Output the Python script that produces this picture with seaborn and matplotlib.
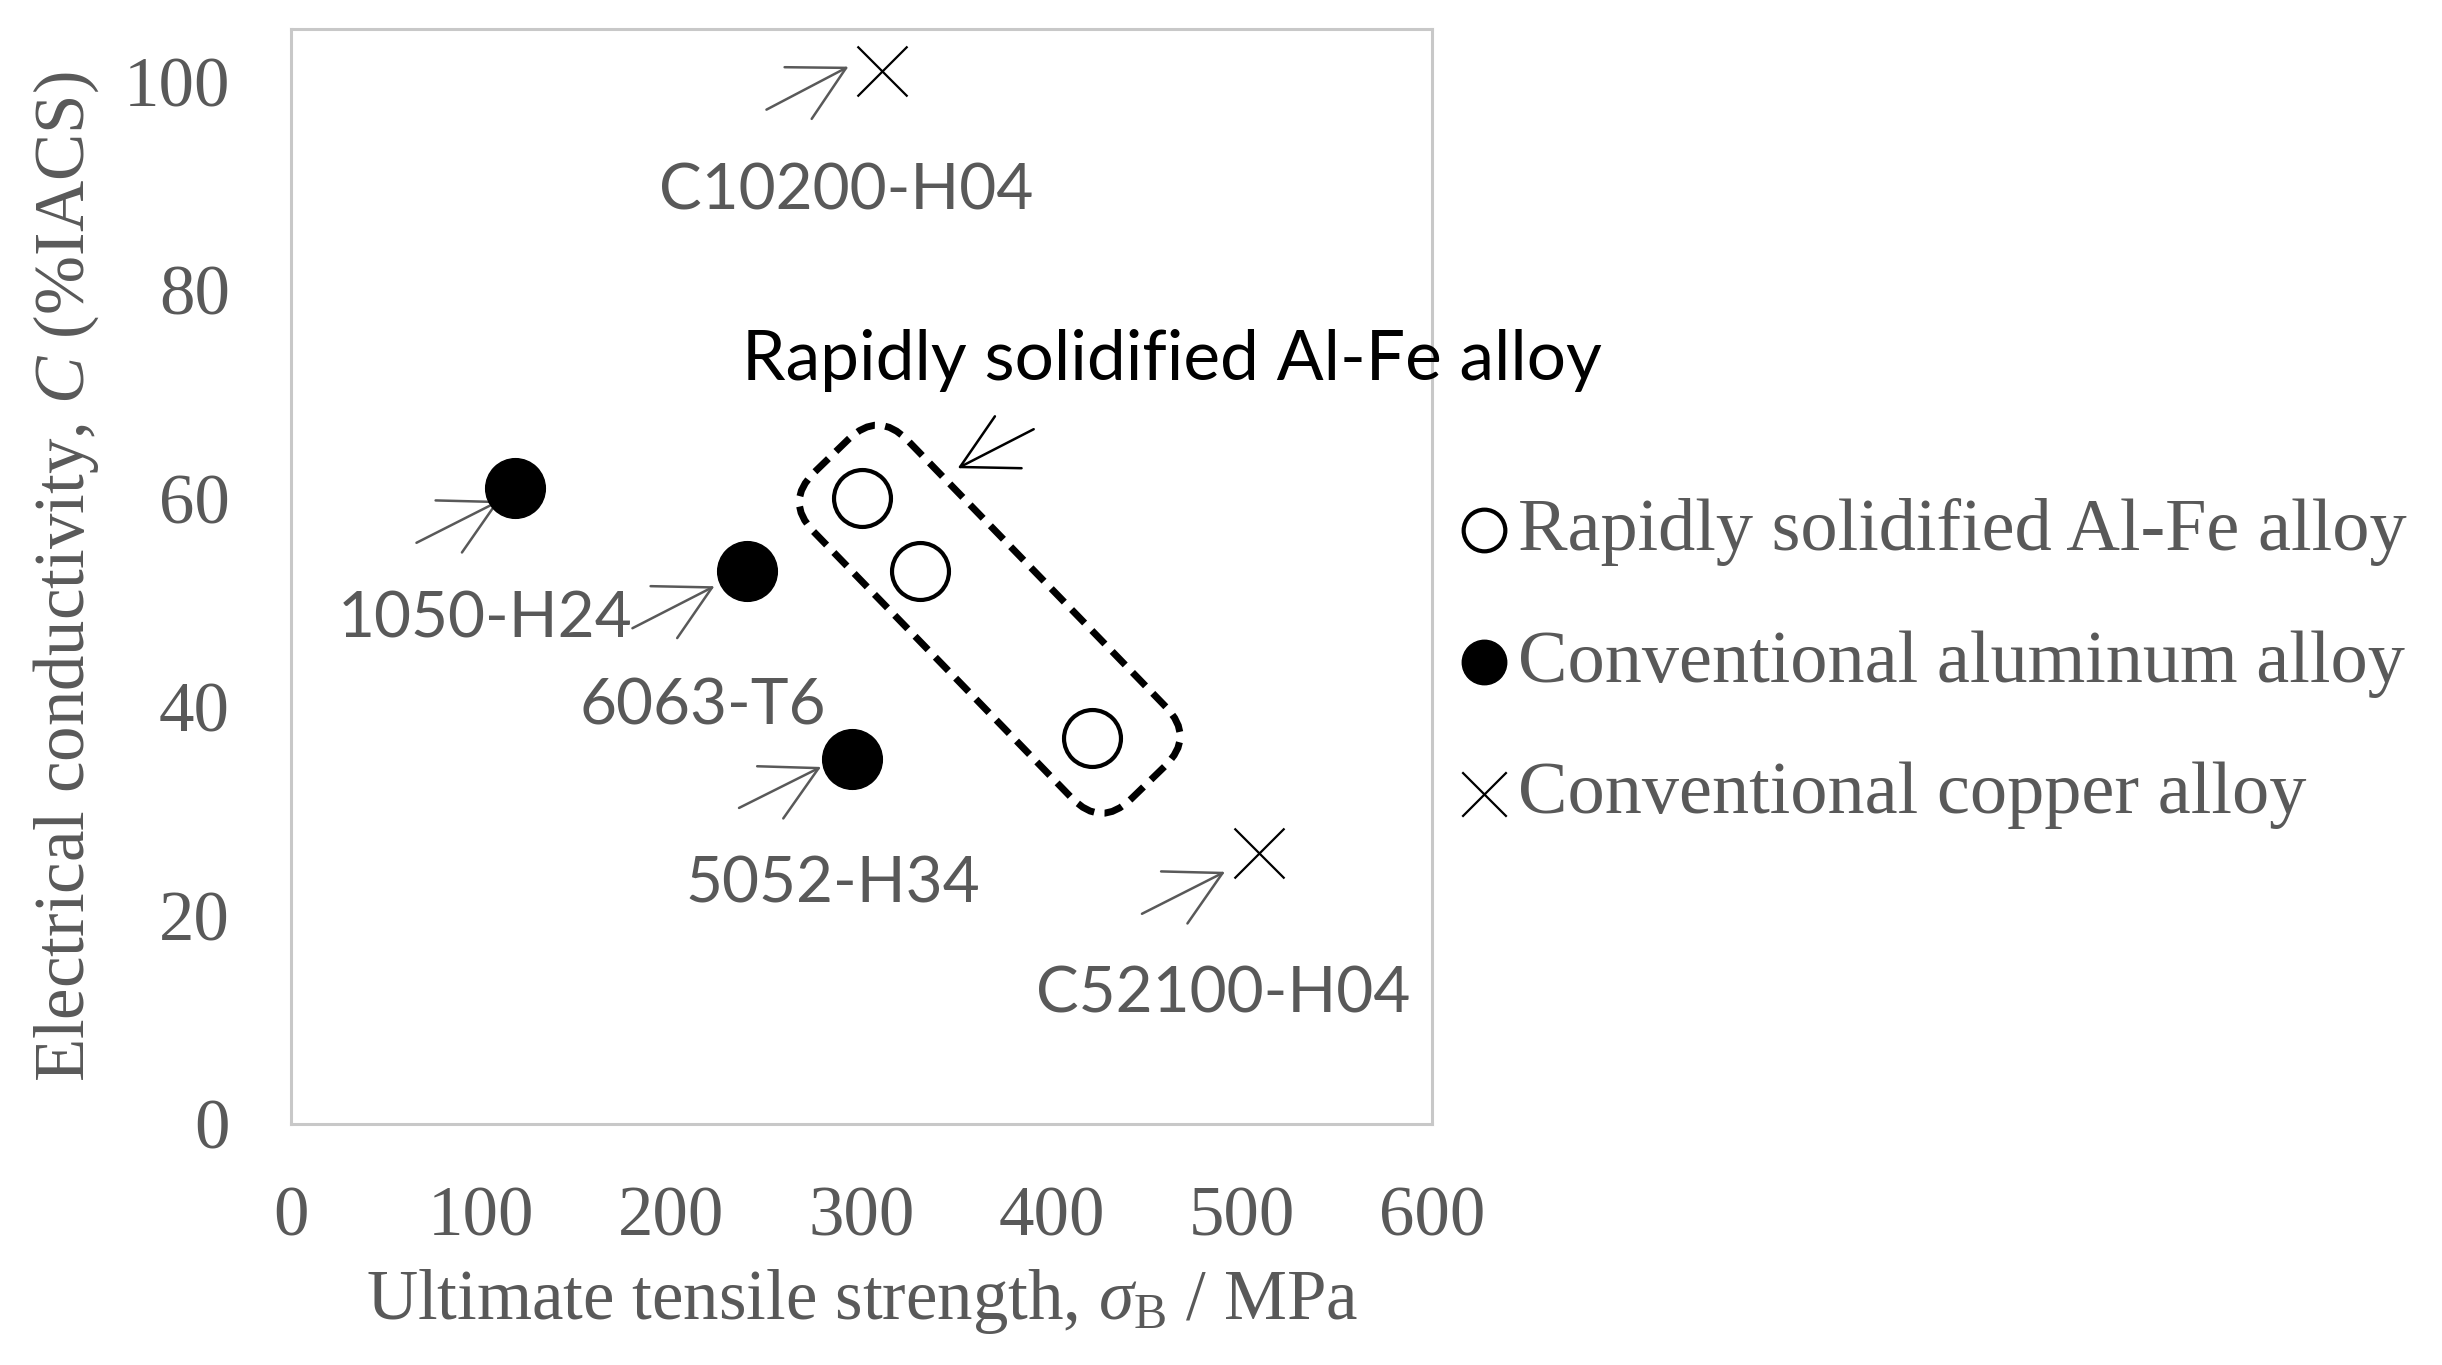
import matplotlib
matplotlib.use("Agg")
import matplotlib.pyplot as plt
import matplotlib.transforms as mtransforms
from matplotlib.patches import FancyBboxPatch
import seaborn as sns

# rapidly solidified Al-Fe alloy
rs_strength = [300, 331, 421]
rs_conductivity = [60, 53, 37]

# conventional aluminum alloys
al_names = ["1050-H24", "6063-T6", "5052-H34"]
al_strength = [118, 240, 295]
al_conductivity = [61, 53, 35]

# conventional copper alloys
cu_names = ["C10200-H04", "C52100-H04"]
cu_strength = [311, 509]
cu_conductivity = [101, 26]

x_ticks = [0, 100, 200, 300, 400, 500, 600]
y_ticks = [0, 20, 40, 60, 80, 100]

GRAY = "#595959"

sns.set_style("white")
plt.rcParams["font.family"] = ["Liberation Serif", "DejaVu Serif"]
plt.rcParams["mathtext.fontset"] = "custom"
plt.rcParams["mathtext.rm"] = "Liberation Serif"
plt.rcParams["mathtext.it"] = "Liberation Serif:italic"

fig = plt.figure(figsize=(24.42, 13.65), dpi=100)
ax = fig.add_axes([0.1192, 0.1766, 0.4672, 0.8022])

sns.scatterplot(x=rs_strength, y=rs_conductivity, ax=ax, marker="o", s=41**2,
                facecolor="white", edgecolor="black", linewidth=3.0,
                label="Rapidly solidified Al-Fe alloy", zorder=4)
sns.scatterplot(x=al_strength, y=al_conductivity, ax=ax, marker="o", s=43**2,
                color="black", edgecolor="black", linewidth=1,
                label="Conventional aluminum alloy", zorder=4)
sns.scatterplot(x=cu_strength, y=cu_conductivity, ax=ax, marker="x", s=36**2,
                color="black", linewidth=1.6,
                label="Conventional copper alloy", zorder=4)

ax.set_xlim(0, 600)
ax.set_ylim(0, 105)
ax.set_xticks(x_ticks)
ax.set_yticks(y_ticks)
ax.tick_params(axis="x", direction="in", length=15, width=2, color="#D9D9D9",
               labelsize=51, labelcolor=GRAY, pad=44)
ax.tick_params(axis="y", direction="in", length=15, width=2, color="#D9D9D9",
               labelsize=51, labelcolor=GRAY, pad=44)
for sp in ax.spines.values():
    sp.set_color("#C8C8C8")
    sp.set_linewidth(2.2)

ax.set_xlabel(r"Ultimate tensile strength, $\sigma_{\mathrm{B}}$ / MPa",
              fontsize=51, color=GRAY, labelpad=12)
ax.set_ylabel("Electrical conductivity, $C$ (%IACS)", fontsize=51, color=GRAY,
              labelpad=16)


def px_offset(dx, dy):
    return mtransforms.offset_copy(ax.transData, fig=fig, x=dx, y=dy, units="dots")


arrow_gray = dict(arrowstyle="->,head_length=1.95,head_width=1.05", mutation_scale=20,
                  color=GRAY, lw=1.8, shrinkA=0, shrinkB=0)
arrow_black = dict(arrow_gray, color="black")

# label layout: (head offset, tail offset, text offset) in pixels from the point
al_layout = [((-16, -13), (-99, -55), (-30, -132)),
             ((-33, -15), (-115, -57), (-45, -135)),
             ((-31, -8), (-113, -49), (-19, -126))]
cu_layout = [((-34, 4), (-116, -39), (-36, -121)),
             ((-34, -19), (-117, -61), (-36, -142))]

for names, xs, ys, layout in [(al_names, al_strength, al_conductivity, al_layout),
                              (cu_names, cu_strength, cu_conductivity, cu_layout)]:
    for name, x, y, (head, tail, lab) in zip(names, xs, ys, layout):
        ax.annotate("", xy=(x, y), xycoords=px_offset(*head),
                    xytext=(x, y), textcoords=px_offset(*tail),
                    arrowprops=arrow_gray)
        ax.text(x, y, name, transform=px_offset(*lab), ha="center", va="center",
                fontsize=46, color=GRAY, family="Lato")

# dashed rounded box around the rapidly solidified points
box_center = (367.4, 48.4)
box_len, box_wid, box_r = 4.55, 1.31, 0.42
box_trans = (mtransforms.Affine2D().rotate_deg(-45.9) + fig.dpi_scale_trans
             + mtransforms.ScaledTranslation(box_center[0], box_center[1], ax.transData))
box = FancyBboxPatch((-box_len / 2, -box_wid / 2), box_len, box_wid,
                     boxstyle=f"round,pad=0,rounding_size={box_r}",
                     transform=box_trans, fill=False, edgecolor="black",
                     linewidth=5.0, linestyle=(0, (2.7, 1.5)), zorder=3,
                     clip_on=False)
ax.add_patch(box)
ax.annotate("", xy=box_center, xycoords=px_offset(-32, 151),
            xytext=box_center, textcoords=px_offset(44, 190),
            arrowprops=arrow_black)
ax.text(box_center[0], box_center[1], "Rapidly solidified Al-Fe alloy",
        transform=px_offset(182, 259), ha="center", va="center",
        fontsize=50, color="black", family="Lato")

leg = ax.legend(loc="center left", bbox_to_anchor=(0.5987, 0.5139),
                bbox_transform=fig.transFigure, frameon=False, fontsize=53.5,
                handlelength=0.6, handletextpad=0.16, labelspacing=0.86,
                borderpad=0, borderaxespad=0)
for txt in leg.get_texts():
    txt.set_color(GRAY)
handles = leg.legend_handles
handles[0].set_sizes([30**2])
handles[1].set_sizes([32**2])
handles[2].set_sizes([32**2])

fig.savefig("out.png", dpi=100)
